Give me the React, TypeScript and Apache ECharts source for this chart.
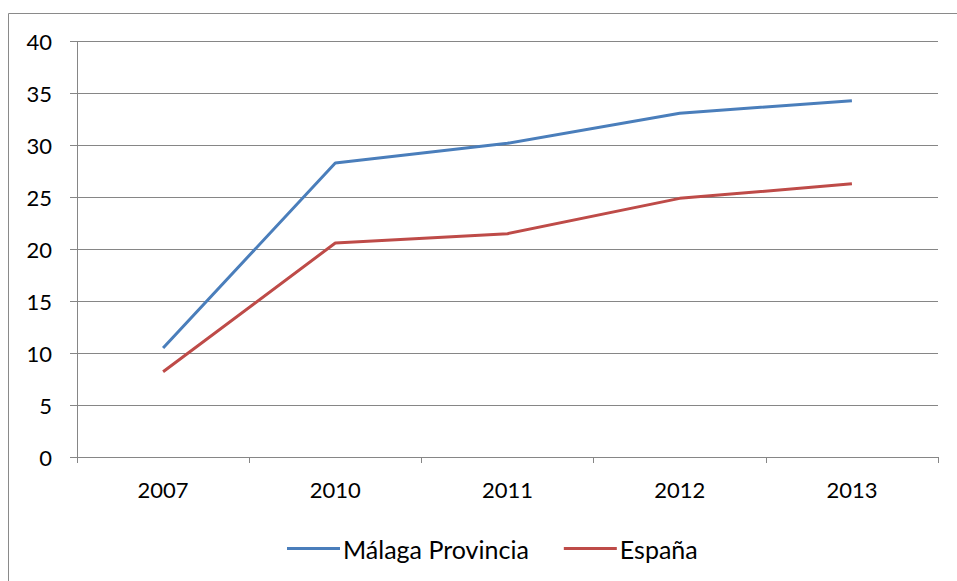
import React, { useEffect, useRef } from "react";
import * as echarts from "echarts";

const categories = ["2007", "2010", "2011", "2012", "2013"];
const malaga = [10.5, 28.3, 30.2, 33.1, 34.3];
const espana = [8.2, 20.6, 21.5, 24.9, 26.3];
const seriesNames = ["Málaga Provincia", "España"];

export default function App() {
  const ref = useRef<HTMLDivElement>(null);
  useEffect(() => {
    if (!ref.current) return;
    const chart = echarts.init(ref.current, undefined, { renderer: "svg" });
    const font = "Lato, 'Open Sans', sans-serif";
    chart.setOption({
      animation: false,
      backgroundColor: "#ffffff",
      graphic: [
        {
          type: "rect",
          shape: { x: 8.5, y: 13.5, width: 1000, height: 700 },
          style: { fill: "none", stroke: "#8a8a8a", lineWidth: 1 },
          silent: true,
        },
      ],
      grid: { left: 77, right: 19, top: 41.5, bottom: 124, containLabel: false },
      legend: {
        top: 536,
        left: 287,
        padding: 0,
        icon: "rect",
        itemWidth: 53,
        itemHeight: 3,
        itemGap: 35,
        textStyle: {
          fontFamily: font,
          fontSize: 25,
          lineHeight: 24,
          color: "#000",
          padding: [0, 0, 0, -2],
        },
        data: seriesNames,
      },
      xAxis: {
        type: "category",
        data: categories,
        boundaryGap: true,
        axisLine: { lineStyle: { color: "#868686", width: 1 } },
        axisTick: { show: true, length: 6, alignWithLabel: false, lineStyle: { color: "#868686" } },
        axisLabel: { color: "#000", fontFamily: font, fontSize: 22, margin: 21 },
        splitLine: { show: false },
      },
      yAxis: {
        type: "value",
        min: 0,
        max: 40,
        interval: 5,
        axisLine: { show: true, lineStyle: { color: "#868686", width: 1 } },
        axisTick: { show: true, length: 7, lineStyle: { color: "#868686" } },
        axisLabel: { color: "#000", fontFamily: font, fontSize: 22, margin: 25 },
        splitLine: { show: true, lineStyle: { color: "#868686", width: 1 } },
      },
      series: [
        {
          name: seriesNames[0],
          type: "line",
          data: malaga,
          symbol: "none",
          lineStyle: { color: "#4a7ebb", width: 3 },
          itemStyle: { color: "#4a7ebb" },
        },
        {
          name: seriesNames[1],
          type: "line",
          data: espana,
          symbol: "none",
          lineStyle: { color: "#be4b48", width: 3 },
          itemStyle: { color: "#be4b48" },
        },
      ],
    });
    return () => chart.dispose();
  }, []);
  return (
    <div
      ref={ref}
      style={{ position: "absolute", left: 0, top: 0, width: 957, height: 581 }}
    />
  );
}
